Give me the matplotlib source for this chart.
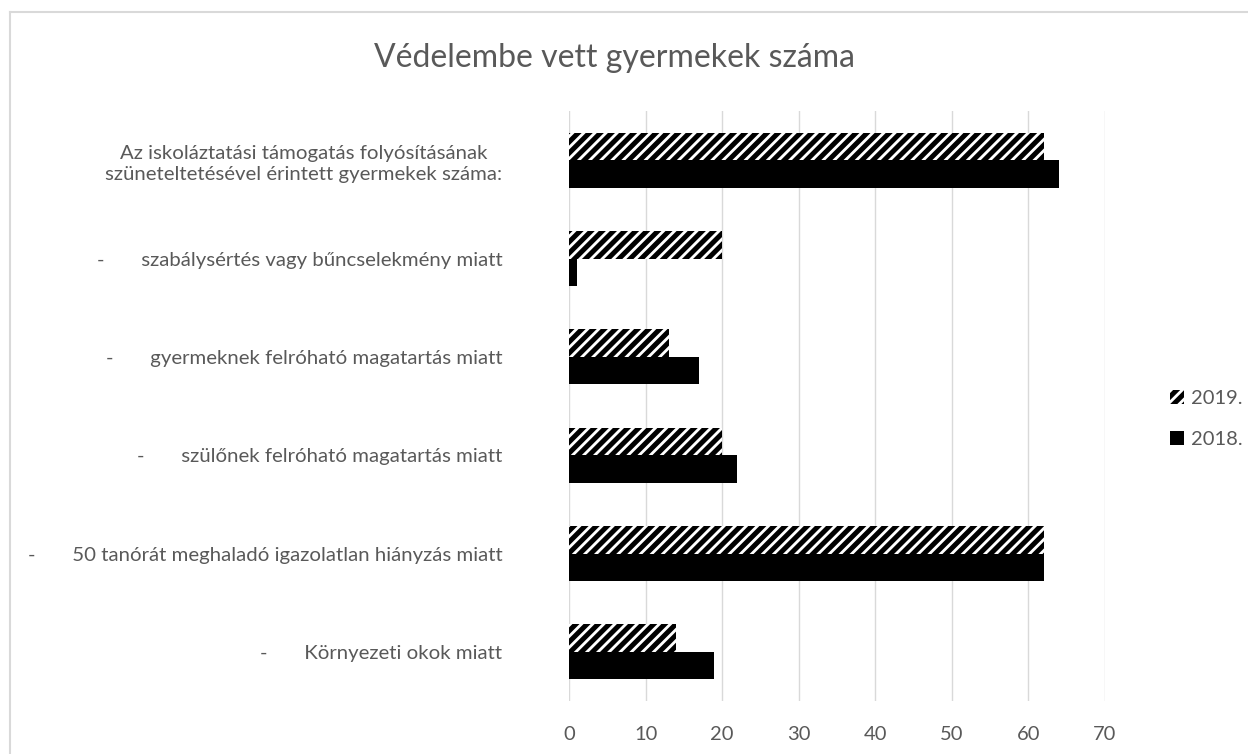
import matplotlib
matplotlib.use("Agg")
import matplotlib.pyplot as plt
import matplotlib.patches as mpatches
from matplotlib.lines import Line2D
import numpy as np

categories = [
    "Az iskoláztatási támogatás folyósításának\nszüneteltetésével érintett gyermekek száma:",
    "-       szabálysértés vagy bűncselekmény miatt",
    "-       gyermeknek felróható magatartás miatt",
    "-       szülőnek felróható magatartás miatt",
    "-       50 tanórát meghaladó igazolatlan hiányzás miatt",
    "-       Környezeti okok miatt",
]
values_2019 = [62, 20, 13, 20, 62, 14]
values_2018 = [64, 1, 17, 22, 62, 19]
series_labels = ["2019.", "2018."]
x_ticks = [0, 10, 20, 30, 40, 50, 60, 70]
title = "Védelembe vett gyermekek száma"

FONT = "Lato"
GRAY = "#595959"
plt.rcParams["font.family"] = [FONT, "DejaVu Sans"]
plt.rcParams["hatch.linewidth"] = 3.6
plt.rcParams["hatch.color"] = "black"

fig = plt.figure(figsize=(12.48, 7.54), dpi=100)
ax = fig.add_axes([569/1248, 1-701/754, (1105-569)/1248, (701-111)/754])

n = len(categories)
y = np.arange(n)
h = 0.28
ax.barh(y - h/2, values_2019, height=h, facecolor="white", edgecolor="black",
        hatch="///", linewidth=0, label=series_labels[0], zorder=3)
ax.barh(y + h/2, values_2018, height=h, color="black", linewidth=0,
        label=series_labels[1], zorder=3)

ax.set_ylim(n - 0.5, -0.5)
ax.set_xlim(0, 70)
ax.set_xticks(x_ticks)
ax.set_yticks(y)
ax.set_yticklabels(categories, fontsize=14.7, color=GRAY, multialignment="center",
                   linespacing=1.3)
ax.tick_params(axis="y", length=0, pad=48)
ax.tick_params(axis="x", length=0, pad=18, labelsize=14.5, labelcolor=GRAY)
ax.grid(axis="x", color="#d9d9d9", linewidth=1, zorder=0)
ax.set_axisbelow(True)
for s in ax.spines.values():
    s.set_visible(False)

fig.text(615/1248, 1-58/754, title, ha="center", va="center", fontsize=23, color=GRAY)

# chart frame (top and left edges visible)
fig.add_artist(Line2D([10/1248, 10/1248], [0, 1-12/754], transform=fig.transFigure,
                      color="#d9d9d9", linewidth=1.5))
fig.add_artist(Line2D([10/1248, 1], [1-12/754, 1-12/754], transform=fig.transFigure,
                      color="#d9d9d9", linewidth=1.5))

handles = [mpatches.Patch(facecolor="white", edgecolor="black", hatch="///", linewidth=0),
           mpatches.Patch(facecolor="black", linewidth=0)]
leg = fig.legend(handles, series_labels, loc="center left",
                 bbox_to_anchor=(1152/1248, 1-419/754), frameon=False,
                 fontsize=14.5, handlelength=0.7, handleheight=0.7,
                 handletextpad=0.35, labelspacing=1.2, labelcolor=GRAY)

fig.savefig("out.png", dpi=100)
